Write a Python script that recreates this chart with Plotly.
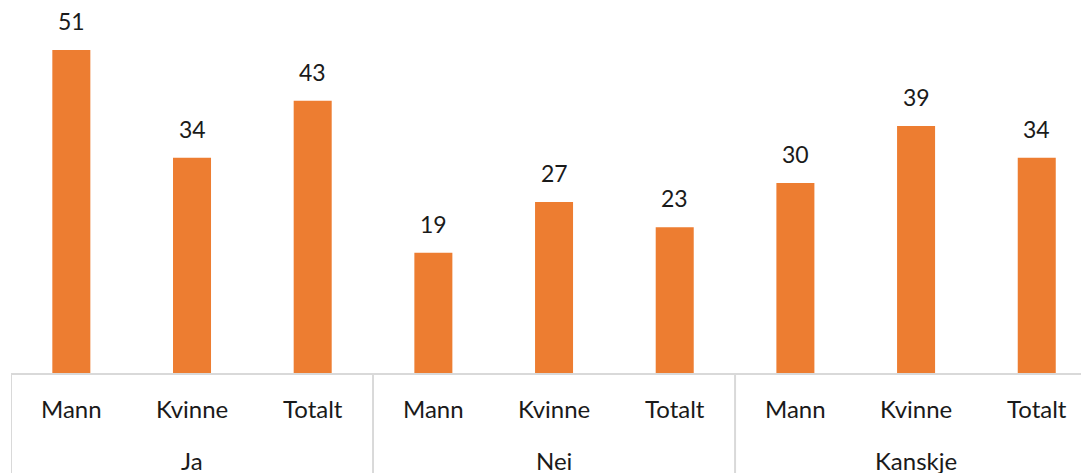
import plotly.graph_objects as go

groups = ["Ja", "Nei", "Kanskje"]
categories = ["Mann", "Kvinne", "Totalt", "Mann", "Kvinne", "Totalt", "Mann", "Kvinne", "Totalt"]
values = [51, 34, 43, 19, 27, 23, 30, 39, 34]

BAR = "#ED7D31"
FONT = "Lato"
TXT = "#1a1a1a"
LINE = "#d9d9d9"
# the page body has an 8px default margin, so the figure is 8px smaller
FIG_W, FIG_H = 1081, 465
BOTTOM = 100
PLOT_H = FIG_H - BOTTOM

n_per_group = len(categories) // len(groups)
xs = list(range(len(categories)))

fig = go.Figure()
fig.add_trace(go.Bar(
    x=xs,
    y=values,
    marker=dict(color=BAR, line=dict(width=0)),
    width=0.315,
    showlegend=False,
    hoverinfo="skip",
))

# value labels
for i, v in zip(xs, values):
    fig.add_annotation(
        x=i, y=v, text=str(v), showarrow=False,
        xref="x", yref="y", yanchor="bottom", yshift=13,
        font=dict(family=FONT, size=23, color=TXT),
    )

# category labels
for i, c in zip(xs, categories):
    fig.add_annotation(
        x=i, y=0, text=c, showarrow=False,
        xref="x", yref="paper", yanchor="middle", yshift=-35,
        font=dict(family=FONT, size=24, color=TXT),
    )

# group labels and dividers
for g_idx, g in enumerate(groups):
    center = g_idx * n_per_group + (n_per_group - 1) / 2
    fig.add_annotation(
        x=center, y=0, text=g, showarrow=False,
        xref="x", yref="paper", yanchor="middle", yshift=-87,
        font=dict(family=FONT, size=24, color=TXT),
    )
for b in range(len(groups) + 1):
    xb = b * n_per_group - 0.5
    fig.add_shape(
        type="line", xref="x", yref="paper",
        x0=xb, x1=xb, y0=0, y1=-BOTTOM / PLOT_H,
        line=dict(color=LINE, width=2),
    )

fig.update_layout(
    width=FIG_W, height=FIG_H,
    margin=dict(l=3, r=0, t=0, b=BOTTOM, autoexpand=False),
    paper_bgcolor="white", plot_bgcolor="white",
    font=dict(family=FONT, size=23, color=TXT),
)
fig.update_xaxes(
    range=[-0.5, 8.433],
    showline=True, linecolor=LINE, linewidth=2,
    showticklabels=False, ticks="", showgrid=False, zeroline=False,
    automargin=False,
)
fig.update_yaxes(
    range=[0, PLOT_H / 6.333], visible=False, showgrid=False, zeroline=False,
    automargin=False,
)

fig.write_html("out.html")
